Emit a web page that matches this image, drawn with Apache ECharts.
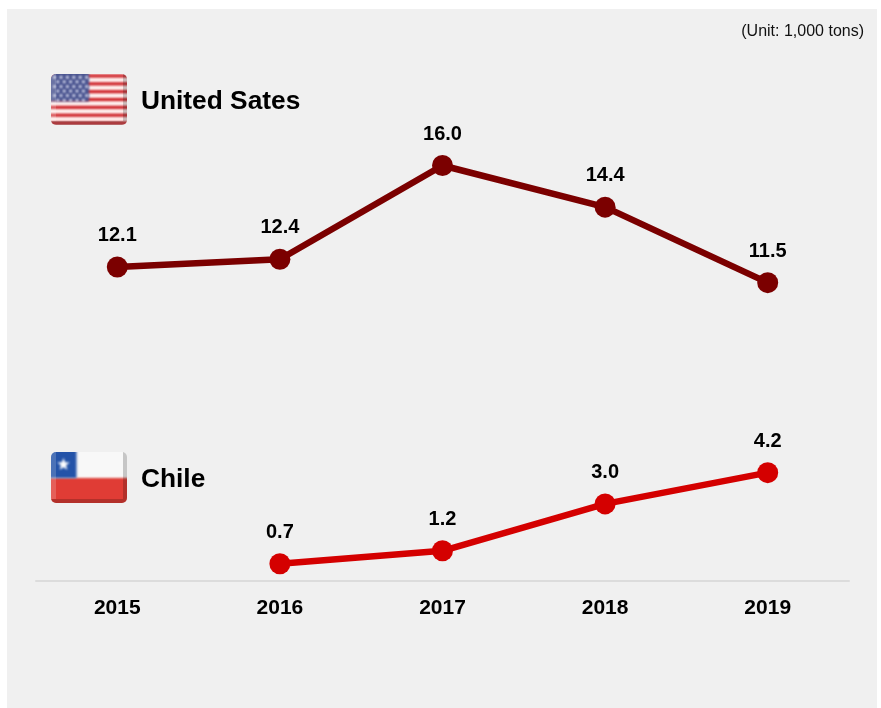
<!DOCTYPE html>
<html>
<head>
<meta charset="utf-8">
<style>
  html, body { margin: 0; padding: 0; background: #ffffff; }
  #chart { width: 881px; height: 708px; }
</style>
<script src="https://cdn.jsdelivr.net/npm/echarts@6/dist/echarts.min.js"></script>
</head>
<body>
<div id="chart"></div>
<script>
const years = ['2015', '2016', '2017', '2018', '2019'];
const unitedStates = [12.1, 12.4, 16.0, 14.4, 11.5];
const chile = [null, 0.7, 1.2, 3.0, 4.2];
const unitNote = '(Unit: 1,000 tons)';
const FONT = '"Liberation Sans", Arial, sans-serif';

function roundedPath(ctx, w, h, r) {
  ctx.beginPath();
  ctx.moveTo(r, 0);
  ctx.arcTo(w, 0, w, h, r);
  ctx.arcTo(w, h, 0, h, r);
  ctx.arcTo(0, h, 0, 0, r);
  ctx.arcTo(0, 0, w, 0, r);
  ctx.closePath();
}

function star(ctx, cx, cy, R) {
  ctx.beginPath();
  for (let i = 0; i < 10; i++) {
    const rad = i % 2 ? R * 0.42 : R;
    const a = -Math.PI / 2 + i * Math.PI / 5;
    ctx[i ? 'lineTo' : 'moveTo'](cx + rad * Math.cos(a), cy + rad * Math.sin(a));
  }
  ctx.closePath();
  ctx.fill();
}

// Glossy button-style flags, painted on offscreen canvases
function makeFlag(paint) {
  const w = 76, h = 51;
  const c = document.createElement('canvas');
  c.width = w; c.height = h;
  const ctx = c.getContext('2d');
  roundedPath(ctx, w, h, 5);
  ctx.clip();
  ctx.filter = 'blur(0.8px)';
  paint(ctx, w, h);
  ctx.filter = 'none';
  // bevel along the right and bottom edges, lighter on the left
  ctx.fillStyle = 'rgba(0,0,0,0.2)';
  ctx.fillRect(w - 4, 0, 4, h);
  ctx.fillRect(0, h - 4, w - 4, 4);
  ctx.fillStyle = 'rgba(255,255,255,0.18)';
  ctx.fillRect(0, 0, 5, h - 4);
  return c;
}

const usFlag = makeFlag((ctx, w, h) => {
  ctx.fillStyle = '#fff2f0';
  ctx.fillRect(-2, -2, w + 4, h + 4);
  const sh = h / 13;
  ctx.fillStyle = '#cc1a20';
  for (let i = 0; i < 13; i += 2) {
    ctx.fillRect(-2, i * sh + 0.4, w + 4, sh - 0.8);
  }
  ctx.fillStyle = '#4a5490';
  ctx.fillRect(-2, -2, 40, sh * 7 + 2);
  ctx.fillStyle = '#dfe2f4';
  for (let r = 0; r < 6; r++) {
    const n = r % 2 ? 5 : 6;
    for (let k = 0; k < n; k++) {
      ctx.beginPath();
      ctx.arc((r % 2 ? 6.8 : 3.6) + k * 6.4, 3.2 + r * 4.6, 1.5, 0, Math.PI * 2);
      ctx.fill();
    }
  }
});

const chileFlag = makeFlag((ctx, w, h) => {
  ctx.fillStyle = '#f8f8f8';
  ctx.fillRect(-2, -2, w + 4, h / 2 + 3);
  ctx.fillStyle = '#e03c35';
  ctx.fillRect(-2, h / 2 + 0.5, w + 4, h / 2 + 2);
  ctx.fillStyle = '#2453a8';
  ctx.fillRect(-2, -2, 27.5, h / 2 + 2.5);
  ctx.fillStyle = '#ffffff';
  star(ctx, 12.5, 12.5, 6.5);
});

function lineSeries(name, values, color) {
  return {
    name,
    type: 'line',
    data: values,
    connectNulls: false,
    symbol: 'circle',
    symbolSize: 21,
    showAllSymbol: true,
    lineStyle: { color, width: 6.5, cap: 'round' },
    itemStyle: { color, borderWidth: 0 },
    label: {
      show: true,
      position: 'top',
      distance: 11,
      color: '#000000',
      fontFamily: FONT,
      fontWeight: 'bold',
      fontSize: 20,
      formatter: p => p.value.toFixed(1)
    },
    silent: true,
    animation: false
  };
}

const chart = echarts.init(document.getElementById('chart'), null, { renderer: 'canvas' });
chart.setOption({
  animation: false,
  backgroundColor: '#ffffff',
  grid: { left: 36, right: 32, top: 61.4, height: 520.6, containLabel: false },
  xAxis: {
    type: 'category',
    data: years,
    boundaryGap: true,
    offset: -1,
    axisTick: { show: false },
    axisLine: { show: true, lineStyle: { color: '#dcdcdc', width: 2 } },
    axisLabel: {
      color: '#000000',
      fontFamily: FONT,
      fontWeight: 'bold',
      fontSize: 21,
      margin: 17
    },
    splitLine: { show: false }
  },
  yAxis: { type: 'value', min: 0, max: 20, show: false },
  series: [
    lineSeries('United Sates', unitedStates, '#7b0000'),
    lineSeries('Chile', chile, '#d40000')
  ],
  graphic: [
    { type: 'rect', z: -10, silent: true, shape: { x: 7, y: 9, width: 870, height: 699 }, style: { fill: '#f0f0f0' } },
    { type: 'image', silent: true, style: { image: usFlag, x: 51, y: 74, width: 76, height: 51 } },
    { type: 'image', silent: true, style: { image: chileFlag, x: 51, y: 452, width: 76, height: 51 } },
    { type: 'text', silent: true, style: { x: 141, y: 101.5, text: 'United Sates', font: 'bold 26.3px ' + FONT, fill: '#000000', textVerticalAlign: 'middle' } },
    { type: 'text', silent: true, style: { x: 141, y: 479.5, text: 'Chile', font: 'bold 26.3px ' + FONT, fill: '#000000', textVerticalAlign: 'middle' } },
    { type: 'text', silent: true, style: { x: 864, y: 31.5, text: unitNote, font: '16px ' + FONT, fill: '#111111', textAlign: 'right', textVerticalAlign: 'middle' } }
  ]
});
</script>
</body>
</html>
